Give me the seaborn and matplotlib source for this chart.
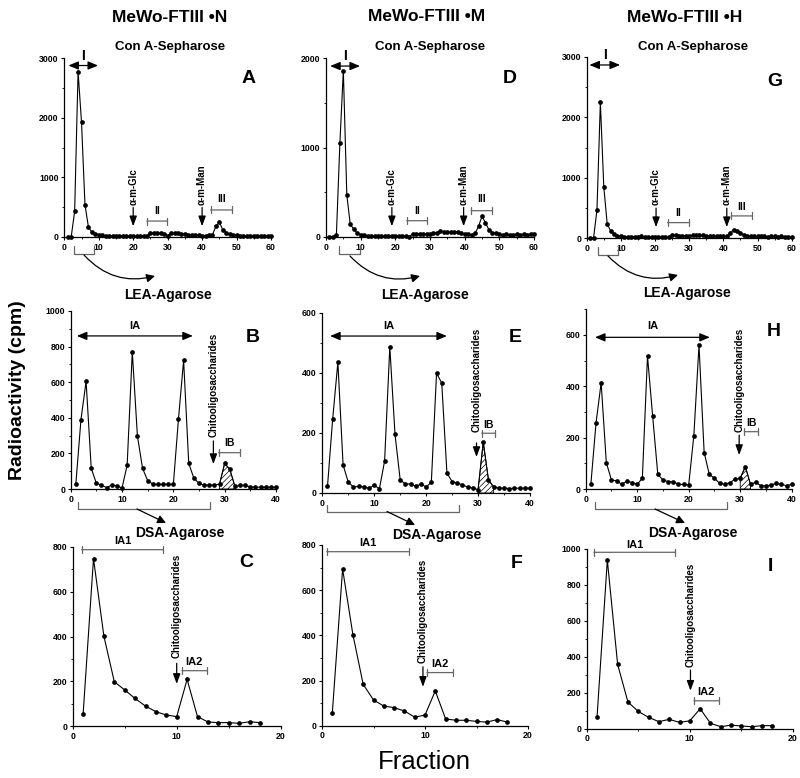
import numpy as np
import matplotlib
matplotlib.use("Agg")
import matplotlib.pyplot as plt
import seaborn as sns
from matplotlib.ticker import MultipleLocator
from matplotlib.patches import FancyArrowPatch
from matplotlib.lines import Line2D

# ---- data ----
conA_frac = np.arange(1, 61)
conA_N = [0, 0, 430, 2770, 1920, 540, 170, 80, 55, 40, 30, 25, 20, 20, 20, 20, 15, 15, 15, 15,
          10, 15, 20, 20, 70, 70, 65, 60, 55, 25, 60, 65, 60, 55, 50, 40, 35, 35, 30, 25,
          25, 30, 35, 180, 250, 120, 70, 50, 35, 30, 20, 25, 20, 25, 20, 25, 20, 20, 20, 20]
conA_M = [5, 5, 25, 1045, 1860, 470, 140, 90, 45, 25, 20, 15, 15, 15, 15, 15, 15, 15, 15, 15,
          15, 15, 10, 5, 35, 35, 30, 30, 35, 35, 45, 50, 70, 60, 55, 55, 55, 60, 45, 35,
          30, 25, 40, 120, 230, 160, 80, 45, 40, 35, 25, 30, 25, 25, 30, 25, 30, 25, 35, 30]
conA_H = [0, 0, 460, 2250, 850, 230, 120, 65, 40, 30, 20, 20, 20, 20, 20, 25, 20, 20, 20, 20,
          20, 20, 20, 20, 55, 45, 40, 35, 40, 40, 45, 45, 45, 45, 35, 40, 30, 25, 25, 25,
          25, 80, 140, 110, 80, 55, 40, 30, 35, 25, 25, 30, 20, 25, 25, 20, 25, 20, 15, 20]

lea_frac = np.arange(1, 41)
lea_N = [28, 390, 605, 116, 32, 22, 8, 22, 17, 6, 134, 770, 297, 116, 47, 28, 26, 26, 26, 26,
         394, 723, 144, 60, 32, 22, 22, 22, 28, 144, 110, 15, 20, 20, 12, 10, 10, 10, 10, 10]
lea_M = [22, 247, 436, 94, 36, 20, 22, 20, 16, 26, 14, 107, 487, 196, 44, 30, 30, 22, 30, 20,
         36, 399, 367, 67, 38, 33, 27, 20, 17, 11, 170, 44, 20, 16, 16, 15, 16, 16, 16, 16]
lea_H = [18, 256, 414, 103, 35, 32, 18, 31, 25, 18, 42, 518, 284, 57, 35, 29, 29, 18, 18, 16,
         208, 560, 142, 57, 42, 22, 18, 25, 38, 42, 87, 18, 26, 13, 12, 16, 22, 18, 13, 18]

dsa_frac = np.arange(1, 19)
dsa_N = [52, 748, 401, 198, 161, 123, 89, 64, 49, 42, 208, 42, 18, 15, 15, 12, 19, 15]
dsa_M = [55, 694, 403, 183, 114, 87, 80, 65, 38, 47, 154, 30, 24, 24, 19, 16, 27, 16]
dsa_H = [63, 937, 357, 148, 96, 63, 39, 52, 35, 44, 111, 30, 11, 20, 15, 11, 17, 17]

column_titles = ["MeWo-FTIII \u2022N", "MeWo-FTIII \u2022M", "MeWo-FTIII \u2022H"]
letters = [["A", "B", "C"], ["D", "E", "F"], ["G", "H", "I"]]
hatch_ranges = [(29, 32), (30, 33), (30, 32)]

sns.set_style("ticks")
plt.rcParams["font.family"] = ["Liberation Sans", "DejaVu Sans"]
plt.rcParams["font.weight"] = "bold"
plt.rcParams["hatch.linewidth"] = 0.5
for key in ["text.color", "axes.labelcolor", "xtick.color", "ytick.color", "axes.edgecolor"]:
    plt.rcParams[key] = "black"

W, H = 800, 778
fig = plt.figure(figsize=(8, 7.78), dpi=100)
GRAY = "#666666"


def add_ax(x0, x1, yb, yt):
    return fig.add_axes([x0 / W, 1 - yb / H, (x1 - x0) / W, (yb - yt) / H])


def fxy(x, y):
    return (x / W, 1 - y / H)


def style(ax, xmax, ymax, xmaj, xmin, ymaj, ymin):
    ax.set_xlim(0, xmax)
    ax.set_ylim(0, ymax)
    sns.despine(ax=ax)
    for s in ["left", "bottom"]:
        ax.spines[s].set_linewidth(0.9)
        ax.spines[s].set_color("black")
    ax.xaxis.set_major_locator(MultipleLocator(xmaj))
    ax.xaxis.set_minor_locator(MultipleLocator(xmin))
    ax.yaxis.set_major_locator(MultipleLocator(ymaj))
    ax.yaxis.set_minor_locator(MultipleLocator(ymin))
    ax.tick_params(which="major", length=2.5, width=0.8, labelsize=6.3, pad=1.5, colors="black")
    ax.tick_params(which="minor", length=1.3, width=0.6, colors="black")
    ax.set_xlabel("")
    ax.set_ylabel("")


def trace(ax, x, y):
    sns.lineplot(x=x, y=y, ax=ax, color="black", linewidth=0.8, marker="o",
                 markersize=3.4, markeredgewidth=0, clip_on=False)


def bracket(ax, x0, x1, y, color=GRAY):
    ax.annotate("", xy=(x0, y), xytext=(x1, y), xycoords=ax.get_xaxis_transform(),
                arrowprops=dict(arrowstyle="|-|,widthA=0.25,widthB=0.25", color=color, lw=0.9,
                                shrinkA=0, shrinkB=0), annotation_clip=False)


def dbl_arrow(ax, x0, x1, y):
    ax.annotate("", xy=(x0, y), xytext=(x1, y), xycoords=ax.get_xaxis_transform(),
                arrowprops=dict(arrowstyle="<|-|>,head_length=0.6,head_width=0.25", color="black",
                                lw=0.9, shrinkA=0, shrinkB=0), annotation_clip=False)


def down_arrow(ax, x, y0, y1, label, ytext, size=7):
    ax.annotate("", xy=(x, y1), xytext=(x, y0), xycoords=ax.get_xaxis_transform(),
                arrowprops=dict(arrowstyle="-|>,head_length=0.6,head_width=0.22", color="black",
                                lw=0.9, shrinkA=0, shrinkB=0), annotation_clip=False)
    ax.text(x, ytext, label, transform=ax.get_xaxis_transform(), rotation=90,
            ha="center", va="bottom", fontsize=size)


def label(ax, x, y, s, size=7.5):
    ax.text(x, y, s, transform=ax.get_xaxis_transform(), ha="center", va="center", fontsize=size)


def under_bracket(ax, x0, x1, yline, ycap):
    tr = ax.get_xaxis_transform()
    ax.add_line(Line2D([x0, x0, x1, x1], [ycap, yline, yline, ycap], transform=tr,
                       color=GRAY, lw=0.9, clip_on=False))


def fig_arrow(p0, p1, rad=0.0):
    fig.add_artist(FancyArrowPatch(fxy(*p0), fxy(*p1), transform=fig.transFigure,
                                   arrowstyle="-|>,head_length=5,head_width=2.5",
                                   connectionstyle=f"arc3,rad={rad}", color="black", lw=0.9,
                                   shrinkA=0, shrinkB=0))


# ---- Con A-Sepharose row ----
conA_boxes = [(64.3, 271, 237, 58), (326, 534, 237, 58), (586.7, 791.7, 238, 57)]
conA_ymax = [3000, 2000, 3000]
conA_data = [conA_N, conA_M, conA_H]
conA_I = [(1.2, 9.8, 0.958), (1.2, 9.8, 0.955), (0.8, 9.75, 0.956)]
glc_x = [20, 19, 20.3]
man_x = [40, 39.7, 41]
II_br = [(24, 29.8, 0.089, 0.147), (23.3, 29.2, 0.091, 0.147), (23.7, 29.8, 0.085, 0.14)]
III_br = [(42.5, 48.6, 0.151, 0.21), (41.9, 48, 0.147, 0.21), (42.3, 48.3, 0.122, 0.173)]
conA_under = [(2.8, 8.6), (3.7, 9.8), (3.2, 9.1)]
conA_curve = [((84, 255), (155, 276)), ((350, 256), (420, 276)), ((608, 256), (678, 275))]

for i in range(3):
    ax = add_ax(*conA_boxes[i])
    trace(ax, conA_frac, conA_data[i])
    style(ax, 60, conA_ymax[i], 10, 5, 1000, 500)
    x0, x1, y = conA_I[i]
    dbl_arrow(ax, x0, x1, y)
    label(ax, (x0 + x1) / 2, y + 0.055, "I", 10)
    down_arrow(ax, glc_x[i], 0.165, 0.06, "\u03b1-m-Glc", 0.18)
    down_arrow(ax, man_x[i], 0.165, 0.06, "\u03b1-m-Man", 0.18)
    a, b, y, ly = II_br[i]
    bracket(ax, a, b, y)
    label(ax, (a + b) / 2, ly, "II", 7.5)
    a, b, y, ly = III_br[i]
    bracket(ax, a, b, y)
    label(ax, (a + b) / 2, ly, "III", 7.5)
    a, b = conA_under[i]
    under_bracket(ax, a, b, -0.095, -0.05)
    fig_arrow(*conA_curve[i], rad=0.3)

# ---- LEA-Agarose row ----
lea_boxes = [(70.7, 276, 489, 311), (322.3, 530, 493, 313), (585.7, 791.7, 489, 309.3)]
lea_ymax = [1000, 600, 700]
lea_data = [lea_N, lea_M, lea_H]
IA_arrow = [(1.2, 23.8, 0.86, 0.916), (1.5, 24, 0.872, 0.928), (1.8, 24.1, 0.844, 0.907)]
lea_chito = [(27.8, 0.27, 0.14, 0.29), (29.7, 0.278, 0.2, 0.34), (29.8, 0.3, 0.189, 0.319)]
IB_br = [(28.8, 32.9, 0.204, 0.258), (30.7, 33.3, 0.332, 0.375), (30.8, 33.4, 0.319, 0.366)]
lea_under = [(1.5, 27.2, -0.114, -0.071), (0.85, 26.3, -0.104, -0.067), (1.9, 27.5, -0.113, -0.071)]
lea_line = [((137, 509), (166, 523)), ((387, 511.5), (415, 525)), ((655, 509), (685, 523))]

for i in range(3):
    ax = add_ax(*lea_boxes[i])
    trace(ax, lea_frac, lea_data[i])
    h0, h1 = hatch_ranges[i]
    ax.fill_between(lea_frac[h0 - 1:h1], np.array(lea_data[i])[h0 - 1:h1], 0,
                    facecolor="none", edgecolor="black", hatch="//////", linewidth=0.6)
    style(ax, 40, lea_ymax[i], 10, 5, 200, 100)
    x0, x1, y, ly = IA_arrow[i]
    dbl_arrow(ax, x0, x1, y)
    label(ax, (x0 + x1) / 2, ly, "IA", 8)
    x, y0, y1, yt = lea_chito[i]
    down_arrow(ax, x, y0, y1, "Chitooligosaccharides", yt)
    a, b, y, ly = IB_br[i]
    bracket(ax, a, b, y)
    label(ax, (a + b) / 2, ly, "IB", 7.5)
    a, b, yl, yc = lea_under[i]
    under_bracket(ax, a, b, yl, yc)
    fig_arrow(*lea_line[i])

# ---- DSA-Agarose row ----
dsa_boxes = [(72.7, 280.7, 726, 547), (322, 528, 725.7, 545), (586.7, 793, 728.7, 548.7)]
dsa_ymax = [800, 800, 1000]
dsa_data = [dsa_N, dsa_M, dsa_H]
IA1_br = [(0.86, 8.7, 0.985, 1.035), (0.45, 8.4, 0.963, 1.012), (0.7, 8.6, 0.98, 1.02)]
dsa_chito = [(10.0, 0.35, 0.235, 0.378), (9.8, 0.326, 0.215, 0.345), (10.06, 0.326, 0.211, 0.344)]
IA2_br = [(10.5, 12.9, 0.309, 0.359), (10.2, 12.7, 0.294, 0.341), (10.4, 12.8, 0.155, 0.205)]

for i in range(3):
    ax = add_ax(*dsa_boxes[i])
    trace(ax, dsa_frac, dsa_data[i])
    style(ax, 20, dsa_ymax[i], 10, 5, 200, 100)
    a, b, y, ly = IA1_br[i]
    bracket(ax, a, b, y)
    label(ax, (a + b) / 2, ly, "IA1", 8)
    x, y0, y1, yt = dsa_chito[i]
    down_arrow(ax, x, y0, y1, "Chitooligosaccharides", yt)
    a, b, y, ly = IA2_br[i]
    bracket(ax, a, b, y)
    label(ax, (a + b) / 2, ly, "IA2", 8)

# ---- titles and labels ----
title_pos = [(170, 17.3), (426.7, 16.7), (685, 17.3)]
conA_pos = [(170, 47.3), (430, 47.3), (693, 46.7)]
lea_pos = [(168, 295), (425, 295), (686.7, 292.7)]
dsa_pos = [(180, 533), (436.7, 535), (693, 533)]
letter_pos = [[(248.3, 78.3), (253, 337), (246.7, 562.7)],
              [(510, 78.3), (515, 338), (516.7, 563.3)],
              [(775, 81.7), (773.3, 331.7), (770, 566.7)]]

for i in range(3):
    fig.text(*fxy(*title_pos[i]), column_titles[i], ha="center", va="center", fontsize=12.5)
    fig.text(*fxy(*conA_pos[i]), "Con A-Sepharose", ha="center", va="center", fontsize=9.5)
    fig.text(*fxy(*lea_pos[i]), "LEA-Agarose", ha="center", va="center", fontsize=10)
    fig.text(*fxy(*dsa_pos[i]), "DSA-Agarose", ha="center", va="center", fontsize=10)
    for j in range(3):
        fig.text(*fxy(*letter_pos[i][j]), letters[i][j], ha="center", va="center", fontsize=14)

fig.text(*fxy(18, 390), "Radioactivity (cpm)", rotation=90, ha="center", va="center", fontsize=14)
fig.text(*fxy(424, 762), "Fraction", ha="center", va="center", fontsize=18.5, fontweight="normal")

fig.savefig("out.png", dpi=100)
